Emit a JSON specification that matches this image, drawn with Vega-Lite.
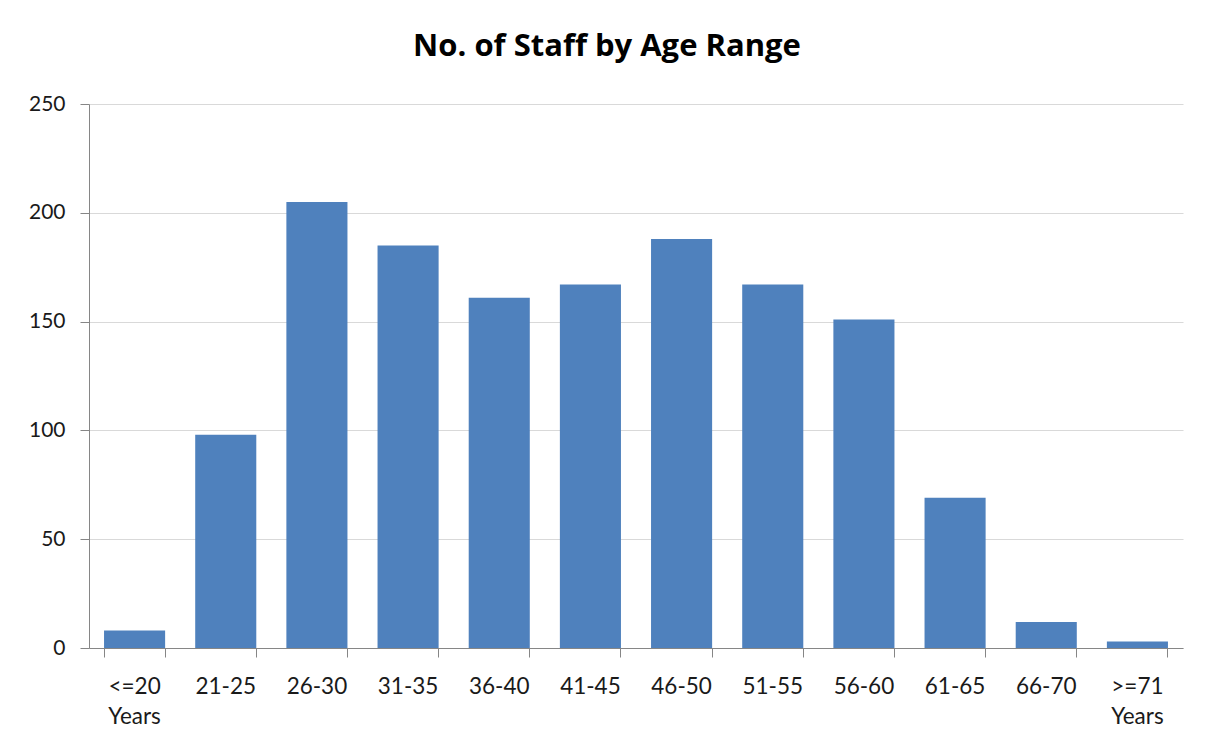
{
  "$schema": "https://vega.github.io/schema/vega-lite/v6.json",
  "autosize": "none",
  "width": 1094,
  "height": 544,
  "padding": {"left": 89, "top": 104, "right": 27, "bottom": 98},
  "background": "white",
  "title": {
    "text": "No. of Staff by Age Range",
    "font": "Open Sans",
    "fontSize": 31,
    "fontWeight": "bold",
    "color": "#000000",
    "anchor": "middle",
    "dx": -29,
    "offset": 30
  },
  "data": {
    "values": [
      {"age": "<=20 Years", "staff": 8},
      {"age": "21-25", "staff": 98},
      {"age": "26-30", "staff": 205},
      {"age": "31-35", "staff": 185},
      {"age": "36-40", "staff": 161},
      {"age": "41-45", "staff": 167},
      {"age": "46-50", "staff": 188},
      {"age": "51-55", "staff": 167},
      {"age": "56-60", "staff": 151},
      {"age": "61-65", "staff": 69},
      {"age": "66-70", "staff": 12},
      {"age": ">=71 Years", "staff": 3}
    ]
  },
  "mark": {"type": "bar", "color": "#4F81BD"},
  "encoding": {
    "x": {
      "field": "age",
      "type": "nominal",
      "sort": null,
      "scale": {"paddingInner": 0.33, "paddingOuter": 0.165},
      "axis": {
        "title": null,
        "labelAngle": 0,
        "labelExpr": "split(datum.label, ' ')",
        "labelLineHeight": 30,
        "labelFont": "Lato",
        "labelFontSize": 22.5,
        "labelColor": "#1a1a1a",
        "labelPadding": 18,
        "tickSize": 9,
        "tickColor": "#868686",
        "domainColor": "#868686",
        "bandPosition": 1,
        "tickExtra": true,
        "grid": false
      }
    },
    "y": {
      "field": "staff",
      "type": "quantitative",
      "scale": {"domain": [0, 250]},
      "axis": {
        "title": null,
        "values": [0, 50, 100, 150, 200, 250],
        "labelFont": "Lato",
        "labelFontSize": 21,
        "labelColor": "#1a1a1a",
        "labelPadding": 15,
        "tickSize": 9,
        "tickColor": "#868686",
        "domainColor": "#868686",
        "gridColor": "#d9d9d9",
        "grid": true
      }
    }
  },
  "config": {"view": {"stroke": null}}
}
